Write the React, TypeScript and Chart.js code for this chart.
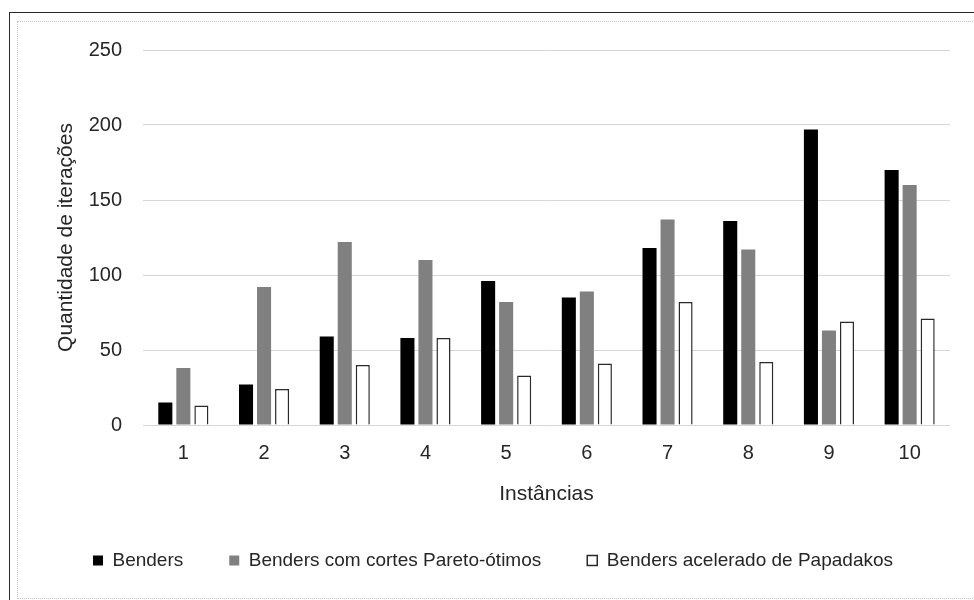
import React, { useEffect, useRef } from "react";
import { Chart, registerables } from "chart.js";

Chart.register(...registerables);

const categories = ["1", "2", "3", "4", "5", "6", "7", "8", "9", "10"];
const benders = [15, 27, 59, 58, 96, 85, 118, 136, 197, 170];
const bendersPareto = [38, 92, 122, 110, 82, 89, 137, 117, 63, 160];
const bendersPapadakos = [13, 24, 40, 58, 33, 41, 82, 42, 69, 71];
const seriesNames = [
  "Benders",
  "Benders com cortes Pareto-ótimos",
  "Benders acelerado de Papadakos",
];
const yTitle = "Quantidade de iterações";
const xTitle = "Instâncias";

const FONT = "'Liberation Sans', Arial, sans-serif";
const TEXT = "#262626";

export default function App() {
  const ref = useRef<HTMLCanvasElement | null>(null);

  useEffect(() => {
    if (!ref.current) return;
    const chart = new Chart(ref.current, {
      type: "bar",
      data: {
        labels: categories,
        datasets: [
          {
            label: seriesNames[0],
            data: benders,
            backgroundColor: "#000000",
            borderWidth: 0,
          },
          {
            label: seriesNames[1],
            data: bendersPareto,
            backgroundColor: "#808080",
            borderWidth: 0,
          },
          {
            label: seriesNames[2],
            data: bendersPapadakos,
            backgroundColor: "#ffffff",
            borderColor: "#2a2a2a",
            borderWidth: 1.5,
          },
        ],
      },
      options: {
        responsive: false,
        animation: false,
        maintainAspectRatio: false,
        layout: { padding: { left: 18, right: 34, top: 28, bottom: 33 } },
        datasets: {
          bar: { categoryPercentage: 0.67, barPercentage: 0.78 },
        },
        plugins: {
          legend: {
            position: "bottom",
            labels: {
              font: { family: FONT, size: 19 },
              color: TEXT,
              boxWidth: 10,
              boxHeight: 10,
              padding: 46,
            },
          },
          tooltip: { enabled: false },
        },
        scales: {
          x: {
            grid: { display: false, drawTicks: false },
            border: { display: false },
            ticks: {
              font: { family: FONT, size: 20 },
              color: TEXT,
              padding: 16,
            },
            title: {
              display: true,
              text: xTitle,
              font: { family: FONT, size: 21 },
              color: TEXT,
              padding: { top: 10, bottom: -2 },
            },
            afterFit: (scale: any) => {
              scale.height = 80;
            },
          },
          y: {
            min: 0,
            max: 250,
            ticks: {
              stepSize: 50,
              font: { family: FONT, size: 20 },
              color: TEXT,
              padding: 21,
            },
            grid: { color: "#d6d6d6", lineWidth: 1, drawTicks: false },
            border: { display: false },
            title: {
              display: true,
              text: yTitle,
              font: { family: FONT, size: 21 },
              color: TEXT,
              padding: { top: 18, bottom: 0 },
            },
            afterFit: (scale: any) => {
              scale.width = 107;
              scale.paddingTop = 0;
              scale.paddingBottom = 0;
            },
          },
        },
      },
    });
    return () => chart.destroy();
  }, []);

  return (
    <div
      style={{
        position: "fixed",
        left: 0,
        top: 0,
        width: 974,
        height: 600,
        overflow: "hidden",
        background: "#ffffff",
      }}
    >
      <div
        style={{
          position: "absolute",
          left: 9,
          top: 12,
          width: 1000,
          height: 620,
          borderLeft: "1.5px solid #2a2a2a",
          borderTop: "1.5px solid #2a2a2a",
        }}
      />
      <div
        style={{
          position: "absolute",
          left: 17,
          top: 21,
          width: 968,
          height: 576,
          border: "1px dotted #c4c4c4",
        }}
      />
      <canvas
        ref={ref}
        width={966}
        height={591}
        style={{
          position: "absolute",
          left: 18,
          top: 22,
          display: "block",
          width: 966,
          height: 591,
        }}
      />
    </div>
  );
}
